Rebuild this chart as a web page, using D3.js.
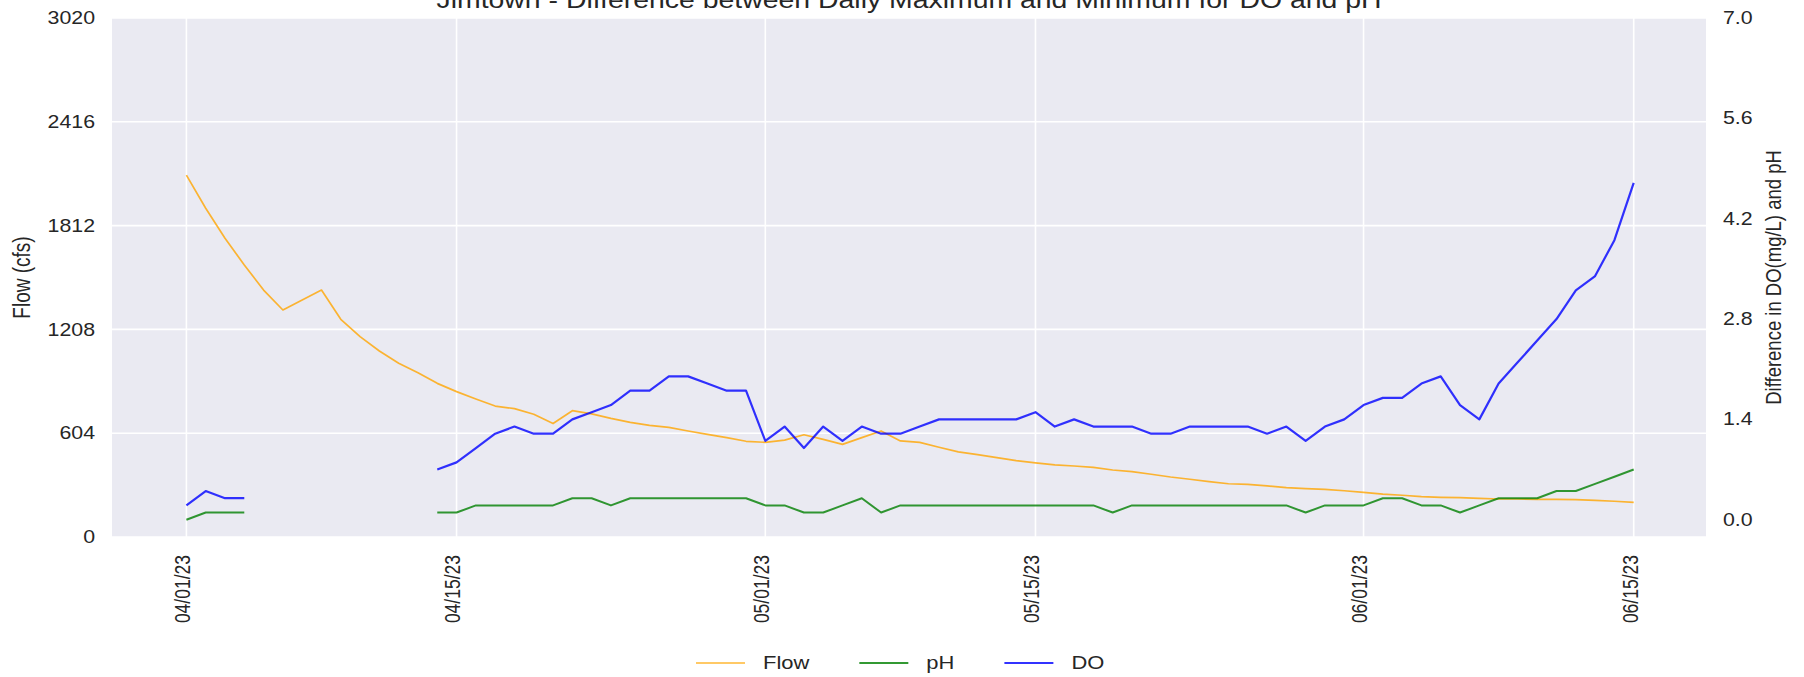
<!DOCTYPE html>
<html>
<head>
<meta charset="utf-8">
<script src="https://cdn.jsdelivr.net/npm/d3@7"></script>
<style>
body { margin: 0; background: #fff; }
text { font-family: "Liberation Sans", Arial, sans-serif; fill: #262626; }
</style>
</head>
<body>
<div id="chart"></div>
<script>
// daily values, 04/01/23 .. 06/15/23
const firstDay = new Date(2023, 3, 1)
const lastDay = new Date(2023, 5, 15)

const flow = [2106, 1913, 1738, 1583, 1437, 1321, 1379, 1437, 1267, 1166,
    1082, 1011, 956, 894, 846, 803, 762, 747, 714, 660,
    735, 716, 690, 667, 650, 638, 617, 597, 578, 557,
    551, 564, 595, 568, 539, 578, 617, 559, 551, 522,
    495, 479, 462, 444, 431, 420, 413, 405, 390, 380,
    365, 349, 336, 322, 310, 306, 297, 287, 281, 277,
    269, 260, 250, 243, 235, 231, 229, 225, 221, 221,
    219, 219, 217, 213, 208, 202]

const ph = [0.0, 0.1, 0.1, 0.1, null, null, null, null, null, null,
    null, null, null, 0.1, 0.1, 0.2, 0.2, 0.2, 0.2, 0.2,
    0.3, 0.3, 0.2, 0.3, 0.3, 0.3, 0.3, 0.3, 0.3, 0.3,
    0.2, 0.2, 0.1, 0.1, 0.2, 0.3, 0.1, 0.2, 0.2, 0.2,
    0.2, 0.2, 0.2, 0.2, 0.2, 0.2, 0.2, 0.2, 0.1, 0.2,
    0.2, 0.2, 0.2, 0.2, 0.2, 0.2, 0.2, 0.2, 0.1, 0.2,
    0.2, 0.2, 0.3, 0.3, 0.2, 0.2, 0.1, 0.2, 0.3, 0.3,
    0.3, 0.4, 0.4, 0.5, 0.6, 0.7]

const dOx = [0.2, 0.4, 0.3, 0.3, null, null, null, null, null, null,
    null, null, null, 0.7, 0.8, 1.0, 1.2, 1.3, 1.2, 1.2,
    1.4, 1.5, 1.6, 1.8, 1.8, 2.0, 2.0, 1.9, 1.8, 1.8,
    1.1, 1.3, 1.0, 1.3, 1.1, 1.3, 1.2, 1.2, 1.3, 1.4,
    1.4, 1.4, 1.4, 1.4, 1.5, 1.3, 1.4, 1.3, 1.3, 1.3,
    1.2, 1.2, 1.3, 1.3, 1.3, 1.3, 1.2, 1.3, 1.1, 1.3,
    1.4, 1.6, 1.7, 1.7, 1.9, 2.0, 1.6, 1.4, 1.9, 2.2,
    2.5, 2.8, 3.2, 3.4, 3.9, 4.7]

const xTickDays = ["2023-04-01", "2023-04-15", "2023-05-01", "2023-05-15", "2023-06-01", "2023-06-15"]
const flowTicks = [0, 604, 1208, 1812, 2416, 3020]
const diffTicks = [0, 1.4, 2.8, 4.2, 5.6, 7.0]

const series = [
    { name: "Flow", color: "orange", values: flow, axis: "left", width: 1.7 },
    { name: "pH", color: "green", values: ph, axis: "right", width: 2 },
    { name: "DO", color: "blue", values: dOx, axis: "right", width: 2.2 }
]

// the picture is wider than it is tall, text is stretched sideways
const SX = 1.22

const W = 1804, H = 677
const plot = { left: 112, right: 1706, top: 18, bottom: 537 }

const days = d3.timeDay.range(firstDay, d3.timeDay.offset(lastDay, 1))
const parseDay = d3.timeParse("%Y-%m-%d")

const x = d3.scaleTime()
    .domain([firstDay, lastDay])
    .range([186.4, 1633.7])

const yFlow = d3.scaleLinear()
    .domain([0, 3020])
    .range([plot.bottom, plot.top])

const yDiff = d3.scaleLinear()
    .domain([-0.241, 7])
    .range([plot.bottom, plot.top])

const svg = d3.select("#chart")
    .append("svg")
    .attr("width", W)
    .attr("height", H)

svg.append("rect")
    .attr("x", plot.left)
    .attr("y", plot.top)
    .attr("width", plot.right - plot.left)
    .attr("height", plot.bottom - plot.top)
    .attr("fill", "#eaeaf2")

// grid
svg.append("g")
    .selectAll("line")
    .data(flowTicks)
    .join("line")
    .attr("x1", plot.left)
    .attr("x2", plot.right)
    .attr("y1", d => yFlow(d))
    .attr("y2", d => yFlow(d))
    .attr("stroke", "#fff")
    .attr("stroke-width", 1.6)

svg.append("g")
    .selectAll("line")
    .data(xTickDays.map(parseDay))
    .join("line")
    .attr("x1", d => x(d))
    .attr("x2", d => x(d))
    .attr("y1", plot.top)
    .attr("y2", plot.bottom)
    .attr("stroke", "#fff")
    .attr("stroke-width", 1.6)

// left axis
svg.append("g")
    .attr("transform", `translate(${plot.left},0)`)
    .call(d3.axisLeft(yFlow).tickValues(flowTicks).tickSize(0).tickFormat(d3.format("d")))
    .call(g => g.select(".domain").remove())
    .call(g => g.selectAll("text")
        .attr("x", -17 / SX)
        .attr("transform", `scale(${SX},1)`)
        .style("font-size", "17.5px")
        .attr("fill", "#262626"))

// right axis
svg.append("g")
    .attr("transform", `translate(${plot.right},0)`)
    .call(d3.axisRight(yDiff).tickValues(diffTicks).tickSize(0).tickFormat(d3.format(".1f")))
    .call(g => g.select(".domain").remove())
    .call(g => g.selectAll("text")
        .attr("x", 17 / SX)
        .attr("transform", `scale(${SX},1)`)
        .style("font-size", "17.5px")
        .attr("fill", "#262626"))

// bottom axis, labels turned upright
svg.append("g")
    .attr("transform", `translate(0,${plot.bottom})`)
    .call(d3.axisBottom(x).tickValues(xTickDays.map(parseDay)).tickSize(0).tickFormat(d3.timeFormat("%m/%d/%y")))
    .call(g => g.select(".domain").remove())
    .call(g => g.selectAll("text")
        .attr("x", 0)
        .attr("y", 2.8)
        .attr("dy", null)
        .attr("text-anchor", "end")
        .attr("transform", `translate(0,18) rotate(-90) scale(1,${SX})`)
        .style("font-size", "17.5px")
        .attr("fill", "#262626"))

// lines
series.forEach(s => {
    const y = s.axis === "left" ? yFlow : yDiff
    const line = d3.line()
        .defined(d => d.value != null)
        .x(d => x(d.day))
        .y(d => y(d.value))
    svg.append("path")
        .datum(days.map((day, i) => ({ day: day, value: s.values[i] })))
        .attr("fill", "none")
        .attr("stroke", s.color)
        .attr("stroke-opacity", 0.8)
        .attr("stroke-width", s.width)
        .attr("stroke-linejoin", "round")
        .attr("d", line)
})

// title
svg.append("text")
    .attr("transform", `translate(${(plot.left + plot.right) / 2},7.5) scale(${SX},1)`)
    .attr("text-anchor", "middle")
    .style("font-size", "23.3px")
    .text("Jimtown - Difference between Daily Maximum and Minimum for DO and pH")

// axis titles
svg.append("text")
    .attr("transform", `translate(22,${(plot.top + plot.bottom) / 2}) rotate(-90) scale(1,${SX})`)
    .attr("text-anchor", "middle")
    .attr("dy", "0.35em")
    .style("font-size", "19px")
    .text("Flow (cfs)")

svg.append("text")
    .attr("transform", `translate(1773,${(plot.top + plot.bottom) / 2}) rotate(-90) scale(1,${SX})`)
    .attr("text-anchor", "middle")
    .attr("dy", "0.35em")
    .style("font-size", "18.5px")
    .text("Difference in DO(mg/L) and pH")

// legend
const legend = svg.append("g").attr("transform", "translate(696,663)")
let lx = 0
series.forEach(s => {
    legend.append("line")
        .attr("x1", lx)
        .attr("x2", lx + 49)
        .attr("stroke", s.color)
        .attr("stroke-opacity", 0.8)
        .attr("stroke-width", s.width)
    const t = legend.append("text")
        .attr("transform", `translate(${lx + 67},0) scale(${SX},1)`)
        .attr("dy", "0.35em")
        .style("font-size", "18px")
        .text(s.name)
    lx += 67 + t.node().getComputedTextLength() * SX + 50
})
</script>
</body>
</html>
